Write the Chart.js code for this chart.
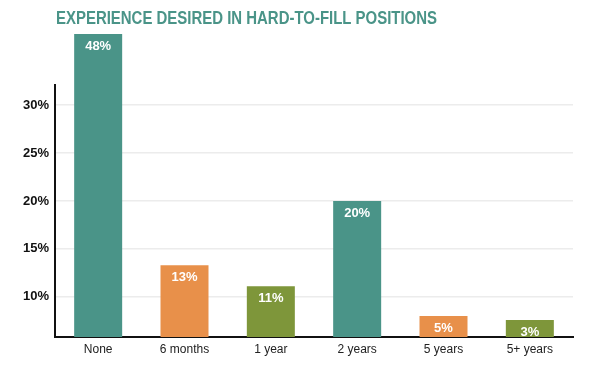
<!DOCTYPE html>
<html>
<head>
<meta charset="utf-8">
<script src="https://cdn.jsdelivr.net/npm/chart.js@4"></script>
<style>
  html, body { margin: 0; padding: 0; background: #fff; }
</style>
</head>
<body>
<canvas id="expChart" width="600" height="377"></canvas>
<script>
const categories = ['None', '6 months', '1 year', '2 years', '5 years', '5+ years'];
// labels printed on the bars
const valueLabels = ['48%', '13%', '11%', '20%', '5%', '3%'];
// bar heights as drawn in the picture (small bars are not to scale there)
const barHeights = [48, 13.3, 11.1, 20, 8.0, 7.6];
const barColors = ['#4a9488', '#e8904a', '#7e963a', '#4a9488', '#e8904a', '#7e963a'];
const yTicks = [10, 15, 20, 25, 30];
const titleText = 'EXPERIENCE DESIRED IN HARD-TO-FILL POSITIONS';

// title + y-axis line + bar labels
const decorations = {
  id: 'decorations',
  afterDraw(chart) {
    const ctx = chart.ctx;
    const area = chart.chartArea;
    const y = chart.scales.y;
    ctx.save();

    // title, squeezed to look like a condensed face
    ctx.fillStyle = '#4a9488';
    ctx.font = "bold 19px 'Liberation Sans', Arial, sans-serif";
    ctx.textAlign = 'left';
    ctx.textBaseline = 'alphabetic';
    const w = ctx.measureText(titleText).width;
    ctx.save();
    ctx.translate(area.left + 1, 24);
    ctx.scale(381 / w, 1);
    ctx.fillText(titleText, 0, 0);
    ctx.restore();

    // y axis line, stops short of the top
    ctx.strokeStyle = '#111';
    ctx.lineWidth = 2;
    ctx.beginPath();
    ctx.moveTo(area.left, y.getPixelForValue(32.2));
    ctx.lineTo(area.left, area.bottom + 1);
    ctx.stroke();

    // value labels
    ctx.fillStyle = '#fff';
    ctx.font = "bold 13px 'Liberation Sans', Arial, sans-serif";
    ctx.textAlign = 'center';
    ctx.textBaseline = 'middle';
    chart.getDatasetMeta(0).data.forEach((bar, i) => {
      const top = Math.max(bar.y, area.top);
      ctx.fillText(valueLabels[i], bar.x, top + 12.5);
    });
    ctx.restore();
  }
};

new Chart(document.getElementById('expChart'), {
  type: 'bar',
  data: {
    labels: categories,
    datasets: [{
      data: barHeights,
      backgroundColor: barColors,
      borderWidth: 0,
      barPercentage: 0.556,
      categoryPercentage: 1
    }]
  },
  options: {
    responsive: false,
    animation: false,
    devicePixelRatio: 1,
    layout: { padding: { top: 34, right: 27, left: 0, bottom: 0 } },
    plugins: {
      legend: { display: false },
      tooltip: { enabled: false },
      title: { display: false }
    },
    scales: {
      x: {
        grid: { display: false, drawTicks: false },
        border: { display: true, color: '#111', width: 2 },
        ticks: {
          color: '#222',
          padding: 5,
          font: { family: "'Liberation Sans', Arial, sans-serif", size: 12 }
        },
        afterFit(scale) { scale.height = 40; }
      },
      y: {
        min: 5.82,
        max: 37.4,
        afterBuildTicks(axis) {
          axis.ticks = yTicks.map(v => ({ value: v }));
        },
        grid: { color: '#ececec', lineWidth: 1.5, drawTicks: false },
        border: { display: false },
        ticks: {
          color: '#111',
          padding: 6,
          font: { family: "'Liberation Sans', Arial, sans-serif", size: 13, weight: 'bold' },
          callback: v => v + '%'
        },
        afterFit(scale) { scale.width = 55; }
      }
    }
  },
  plugins: [decorations]
});
</script>
</body>
</html>
